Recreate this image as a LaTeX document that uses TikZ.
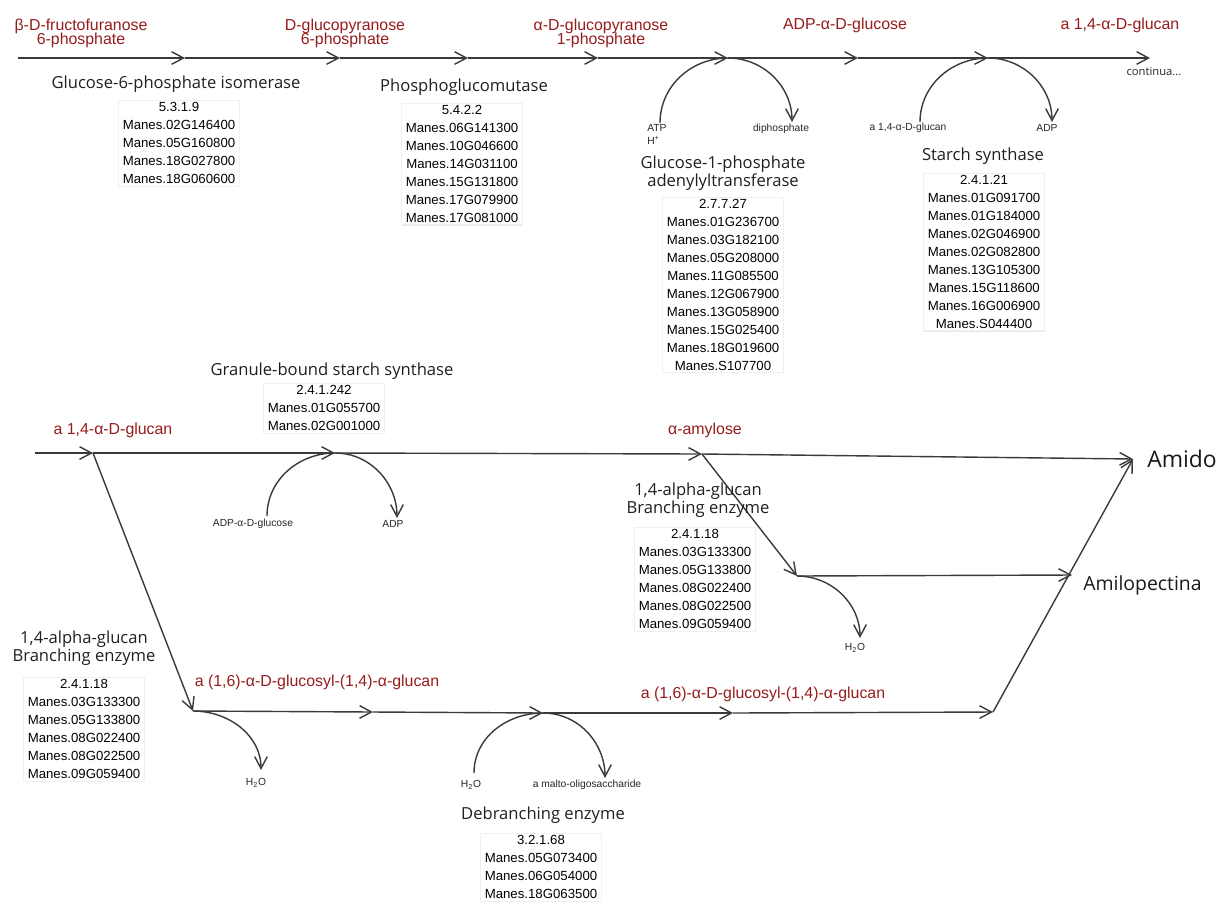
\documentclass[tikz,border=0pt]{standalone}
\usepackage{fontspec}
\setmainfont{Liberation Sans}
\newfontfamily\enzfont{Open Sans}
\usepackage{tikz}
\usetikzlibrary{arrows.meta, shadows}
\definecolor{rojometab}{RGB}{150,28,28}
\definecolor{gris}{RGB}{58,58,58}
\tikzset{
  flow/.style={draw=gris, line width=1pt, -{Straight Barb[length=8.5pt,width=9pt,line width=1pt]}},
  metabolito/.style={text=rojometab, font={\fontsize{11.3}{10}\selectfont\lineskiplimit=-10pt}, align=center, inner sep=0pt},
  enzima/.style={text=black!88, font=\enzfont\fontsize{11.8}{12.9}\selectfont, align=center, inner sep=0pt},
  genes/.style={anchor=north, draw=black!6, fill=white, drop shadow={shadow xshift=0.5pt, shadow yshift=-0.7pt, opacity=0.18},
    align=center, font=\fontsize{9.4}{12.75}\selectfont, inner xsep=3.2pt, inner ysep=1.6pt},
  cofactor/.style={text=black!85, font=\fontsize{7.3}{9.2}\selectfont, inner sep=0pt},
  producto/.style={anchor=west, text=black!90, inner sep=0pt}
}

\begin{document}
\begin{tikzpicture}[x=0.025cm, y=0.025cm]

    \useasboundingbox (0,0) rectangle (1224,-904);

    % ==========================================
    % RUTA SUPERIOR
    % ==========================================

    % Puntos de la ruta
    \coordinate (t0) at (18,-58);
    \coordinate (t1) at (185,-58);
    \coordinate (t2) at (340,-58);
    \coordinate (t3) at (468,-58);
    \coordinate (t4) at (598,-58);
    \coordinate (t5) at (728,-58);
    \coordinate (t6) at (858,-58);
    \coordinate (t7) at (988,-58);
    \coordinate (t8) at (1150,-58);

    \foreach \a/\b in {t0/t1, t1/t2, t2/t3, t3/t4, t4/t5, t5/t6, t6/t7, t7/t8} {
        \draw[flow] (\a) -- (\b);
    }

    % Metabolitos
    \node[metabolito] (fru6p) at (81,-33) {β-D-fructofuranose\\6-phosphate};
    \node[metabolito] (glc6p) at (345,-33) {D-glucopyranose\\6-phosphate};
    \node[metabolito] (glc1p) at (601,-33) {α-D-glucopyranose\\1-phosphate};
    \node[metabolito] (adpglc) at (845,-25) {ADP-α-D-glucose};
    \node[metabolito] (glucan) at (1120,-25) {a 1,4-α-D-glucan};
    \node[text=black!85, font=\enzfont\fontsize{8}{8}\selectfont, inner sep=0pt] (continua) at (1154,-71) {continua...};

    % Enzimas
    \node[enzima] (gpi) at (176,-84) {Glucose-6-phosphate isomerase};
    \node[genes] (gpiGenes) at (179,-100) {5.3.1.9\\Manes.02G146400\\Manes.05G160800\\Manes.18G027800\\Manes.18G060600};

    \node[enzima] (pgm) at (464,-87) {Phosphoglucomutase};
    \node[genes] (pgmGenes) at (462,-103) {5.4.2.2\\Manes.06G141300\\Manes.10G046600\\Manes.14G031100\\Manes.15G131800\\Manes.17G079900\\Manes.17G081000};

    \node[enzima] (agp) at (723,-173) {Glucose-1-phosphate\\adenylyltransferase};
    \node[genes] (agpGenes) at (723,-197) {2.7.7.27\\Manes.01G236700\\Manes.03G182100\\Manes.05G208000\\Manes.11G085500\\Manes.12G067900\\Manes.13G058900\\Manes.15G025400\\Manes.18G019600\\Manes.S107700};

    \node[enzima] (ss) at (983,-156) {Starch synthase};
    \node[genes] (ssGenes) at (984,-173) {2.4.1.21\\Manes.01G091700\\Manes.01G184000\\Manes.02G046900\\Manes.02G082800\\Manes.13G105300\\Manes.15G118600\\Manes.16G006900\\Manes.S044400};

    % Cofactores
    \node[cofactor, align=left, anchor=north west] (atp) at (647,-124) {ATP\\H\textsuperscript{+}};
    \node[cofactor] (ppi) at (781,-129) {diphosphate};
    \coordinate (atpIn) at (660,-123);
    \coordinate (ppiOut) at (792,-122);
    \draw[flow] (atpIn) to[out=90,in=180] (t5) to[out=0,in=90] (ppiOut);

    \node[cofactor] (glucanIn) at (908,-128) {a 1,4-α-D-glucan};
    \node[cofactor] (adpOut) at (1047,-128) {ADP};
    \coordinate (ssIn) at (920,-122);
    \coordinate (ssOut) at (1052,-122);
    \draw[flow] (ssIn) to[out=90,in=180] (t7) to[out=0,in=90] (ssOut);

    % ==========================================
    % RUTA INFERIOR
    % ==========================================

    \coordinate (b0) at (35,-453);
    \coordinate (b1) at (93,-453);
    \coordinate (b2) at (335,-453);
    \coordinate (b3) at (702,-454);
    \coordinate (amidoIn) at (1133,-459);
    \coordinate (c1) at (193,-711);
    \coordinate (c2) at (373,-712);
    \coordinate (c3) at (543,-713);
    \coordinate (c4) at (733,-713);
    \coordinate (c5) at (993,-712);
    \coordinate (d1) at (797,-576);
    \coordinate (d2) at (1072,-575);

    \foreach \a/\b in {b0/b1, b1/b2, b2/b3, b3/amidoIn, b1/c1, c1/c2, c2/c3, c3/c4, c4/c5, c5/amidoIn, b3/d1, d1/d2} {
        \draw[flow] (\a) -- (\b);
    }

    % Metabolitos
    \node[metabolito] (glucan2) at (113,-430) {a 1,4-α-D-glucan};
    \node[metabolito] (amilosa) at (705,-430) {α-amylose};
    \node[metabolito] (rama1) at (317,-682) {a (1,6)-α-D-glucosyl-(1,4)-α-glucan};
    \node[metabolito] (rama2) at (763,-694) {a (1,6)-α-D-glucosyl-(1,4)-α-glucan};

    \node[producto, font=\enzfont\fontsize{16.3}{17}\selectfont] (amido) at (1147,-459) {Amido};
    \node[producto, font=\enzfont\fontsize{13.8}{15}\selectfont] (amilopectina) at (1083,-585) {Amilopectina};

    % Enzimas
    \node[enzima] (gbss) at (332,-371) {Granule-bound starch synthase};
    \node[genes] (gbssGenes) at (324,-383) {2.4.1.242\\Manes.01G055700\\Manes.02G001000};

    \node[enzima] (beA) at (698,-500) {1,4-alpha-glucan\\Branching enzyme};
    \node[genes] (beAGenes) at (695,-527) {2.4.1.18\\Manes.03G133300\\Manes.05G133800\\Manes.08G022400\\Manes.08G022500\\Manes.09G059400};

    \node[enzima] (beB) at (84,-648) {1,4-alpha-glucan\\Branching enzyme};
    \node[genes] (beBGenes) at (84,-677) {2.4.1.18\\Manes.03G133300\\Manes.05G133800\\Manes.08G022400\\Manes.08G022500\\Manes.09G059400};

    \node[enzima] (dbe) at (543,-815) {Debranching enzyme};
    \node[genes] (dbeGenes) at (541,-833) {3.2.1.68\\Manes.05G073400\\Manes.06G054000\\Manes.18G063500};

    % Cofactores
    \node[cofactor] (adpglcIn) at (253,-524) {ADP-α-D-glucose};
    \node[cofactor] (adpOut2) at (393,-524) {ADP};
    \coordinate (gbssIn) at (267,-516);
    \coordinate (gbssOut) at (397,-518);
    \draw[flow] (gbssIn) to[out=90,in=180] (b2) to[out=0,in=90] (gbssOut);

    \node[cofactor] (aguaA) at (855,-648) {H\textsubscript{2}O};
    \coordinate (aguaAIn) at (860,-638);
    \draw[flow] (d1) to[out=0,in=90] (aguaAIn);

    \node[cofactor] (aguaB) at (256,-783) {H\textsubscript{2}O};
    \coordinate (aguaBIn) at (261,-770);
    \draw[flow] (c1) to[out=0,in=90] (aguaBIn);

    \node[cofactor] (aguaC) at (471,-785) {H\textsubscript{2}O};
    \node[cofactor] (malto) at (587,-785) {a malto-oligosaccharide};
    \coordinate (dbeIn) at (474,-773);
    \coordinate (dbeOut) at (605,-778);
    \draw[flow] (dbeIn) to[out=90,in=180] (c3) to[out=0,in=90] (dbeOut);

\end{tikzpicture}
\end{document}
